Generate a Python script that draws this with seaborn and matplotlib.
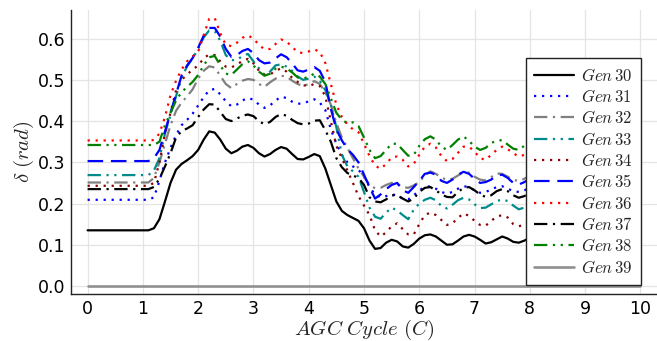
import numpy as np
import pandas as pd
import matplotlib
matplotlib.use("Agg")
import matplotlib.pyplot as plt
import seaborn as sns

sns.set_style("white")
plt.rcParams["font.family"] = ["DejaVu Sans"]
plt.rcParams["mathtext.fontset"] = "cm"

# AGC cycle axis (0 .. 10 in steps of 0.1)
cycle = [round(0.1 * i, 1) for i in range(101)]

gen30 = [0.135] * 12 + [
    0.14, 0.162, 0.205, 0.25, 0.282, 0.296, 0.305, 0.315, 0.33,
    0.355, 0.375, 0.372, 0.355, 0.333, 0.322, 0.328, 0.338, 0.342, 0.335,
    0.322, 0.314, 0.320, 0.330, 0.337, 0.333, 0.320, 0.308, 0.307, 0.313,
    0.320, 0.315, 0.285, 0.245, 0.205, 0.182, 0.172, 0.165, 0.158, 0.14,
    0.11, 0.09, 0.092, 0.105, 0.112, 0.108, 0.096, 0.093, 0.102, 0.115,
    0.123, 0.125, 0.12, 0.11, 0.1, 0.101, 0.11, 0.12, 0.124, 0.12,
    0.112, 0.103, 0.106, 0.113, 0.12, 0.115, 0.107, 0.105, 0.11, 0.117,
    0.123, 0.124, 0.12, 0.11, 0.104, 0.106, 0.116, 0.124, 0.121, 0.113,
    0.105, 0.105, 0.113, 0.122, 0.123, 0.117, 0.107, 0.103, 0.11, 0.12]

gen31 = [0.209] * 12 + [
    0.215, 0.255, 0.3, 0.335, 0.366, 0.39, 0.403, 0.418, 0.438,
    0.458, 0.475, 0.478, 0.465, 0.448, 0.436, 0.44, 0.45, 0.456, 0.452,
    0.44, 0.432, 0.438, 0.45, 0.459, 0.456, 0.447, 0.442, 0.443, 0.448,
    0.453, 0.445, 0.427, 0.38, 0.345, 0.318, 0.3, 0.29, 0.282, 0.265,
    0.24, 0.222, 0.215, 0.218, 0.222, 0.22, 0.212, 0.21, 0.22, 0.232,
    0.24, 0.242, 0.236, 0.228, 0.224, 0.228, 0.236, 0.242, 0.24, 0.232,
    0.226, 0.228, 0.234, 0.24, 0.242, 0.236, 0.23, 0.228, 0.232, 0.238,
    0.241, 0.242, 0.239, 0.233, 0.229, 0.23, 0.236, 0.242, 0.24, 0.235,
    0.229, 0.229, 0.235, 0.241, 0.241, 0.237, 0.231, 0.228, 0.233, 0.239]

gen32 = [0.251] * 12 + [
    0.262, 0.3, 0.345, 0.39, 0.425, 0.445, 0.46, 0.477, 0.503,
    0.522, 0.533, 0.53, 0.51, 0.49, 0.48, 0.49, 0.498, 0.502, 0.5,
    0.49, 0.483, 0.494, 0.503, 0.51, 0.508, 0.498, 0.49, 0.485, 0.49,
    0.497, 0.49, 0.47, 0.44, 0.395, 0.36, 0.335, 0.31, 0.285, 0.265,
    0.245, 0.237, 0.238, 0.245, 0.25, 0.248, 0.24, 0.238, 0.244, 0.252,
    0.268, 0.278, 0.272, 0.263, 0.257, 0.26, 0.268, 0.276, 0.275, 0.265,
    0.258, 0.256, 0.264, 0.273, 0.272, 0.265, 0.257, 0.255, 0.26, 0.268,
    0.274, 0.275, 0.271, 0.262, 0.256, 0.258, 0.267, 0.275, 0.272, 0.265,
    0.257, 0.257, 0.265, 0.273, 0.274, 0.268, 0.259, 0.255, 0.262, 0.271]

gen33 = [0.269] * 12 + [
    0.28, 0.31, 0.37, 0.415, 0.46, 0.505, 0.533, 0.552, 0.575,
    0.603, 0.62, 0.618, 0.595, 0.56, 0.548, 0.548, 0.558, 0.563, 0.545,
    0.528, 0.512, 0.52, 0.535, 0.538, 0.532, 0.522, 0.508, 0.5, 0.503,
    0.508, 0.498, 0.475, 0.44, 0.385, 0.318, 0.29, 0.278, 0.265, 0.228,
    0.19, 0.168, 0.163, 0.178, 0.19, 0.183, 0.172, 0.162, 0.185, 0.2,
    0.209, 0.214, 0.208, 0.194, 0.188, 0.197, 0.208, 0.214, 0.21, 0.198,
    0.189, 0.19, 0.198, 0.206, 0.21, 0.206, 0.195, 0.186, 0.19, 0.198,
    0.211, 0.212, 0.207, 0.196, 0.189, 0.192, 0.202, 0.212, 0.208, 0.2,
    0.19, 0.19, 0.2, 0.21, 0.211, 0.204, 0.193, 0.188, 0.196, 0.207]

gen34 = [0.243] * 12 + [
    0.25, 0.3, 0.37, 0.42, 0.475, 0.5, 0.513, 0.525, 0.535,
    0.552, 0.562, 0.56, 0.545, 0.532, 0.53, 0.537, 0.546, 0.551, 0.54,
    0.522, 0.512, 0.513, 0.522, 0.528, 0.52, 0.505, 0.495, 0.487, 0.485,
    0.49, 0.485, 0.46, 0.4, 0.34, 0.31, 0.28, 0.25, 0.218, 0.195,
    0.172, 0.135, 0.12, 0.13, 0.145, 0.152, 0.138, 0.125, 0.125, 0.15,
    0.172, 0.178, 0.172, 0.16, 0.148, 0.152, 0.165, 0.176, 0.17, 0.158,
    0.148, 0.146, 0.158, 0.168, 0.172, 0.166, 0.15, 0.145, 0.148, 0.158,
    0.175, 0.176, 0.17, 0.158, 0.149, 0.152, 0.165, 0.176, 0.172, 0.162,
    0.151, 0.151, 0.162, 0.173, 0.175, 0.166, 0.154, 0.148, 0.158, 0.17]

gen35 = [0.303] * 12 + [
    0.31, 0.33, 0.375, 0.42, 0.465, 0.51, 0.535, 0.553, 0.578,
    0.607, 0.626, 0.626, 0.605, 0.575, 0.556, 0.56, 0.57, 0.575, 0.565,
    0.548, 0.54, 0.542, 0.552, 0.562, 0.555, 0.54, 0.523, 0.52, 0.525,
    0.531, 0.522, 0.495, 0.43, 0.38, 0.353, 0.332, 0.318, 0.3, 0.27,
    0.24, 0.212, 0.222, 0.235, 0.245, 0.25, 0.232, 0.226, 0.24, 0.255,
    0.272, 0.275, 0.27, 0.255, 0.25, 0.258, 0.27, 0.277, 0.272, 0.26,
    0.25, 0.252, 0.258, 0.268, 0.27, 0.262, 0.25, 0.246, 0.252, 0.26,
    0.275, 0.276, 0.27, 0.258, 0.249, 0.252, 0.265, 0.276, 0.272, 0.262,
    0.251, 0.251, 0.262, 0.273, 0.275, 0.266, 0.254, 0.248, 0.258, 0.27]

gen36 = [0.353] * 12 + [
    0.354, 0.37, 0.41, 0.463, 0.498, 0.525, 0.545, 0.557, 0.568,
    0.608, 0.648, 0.65, 0.613, 0.585, 0.582, 0.59, 0.602, 0.608, 0.6,
    0.585, 0.574, 0.575, 0.587, 0.598, 0.593, 0.58, 0.567, 0.565, 0.569,
    0.574, 0.568, 0.541, 0.49, 0.44, 0.41, 0.392, 0.38, 0.373, 0.345,
    0.315, 0.292, 0.284, 0.296, 0.312, 0.314, 0.306, 0.29, 0.296, 0.318,
    0.338, 0.345, 0.336, 0.315, 0.303, 0.308, 0.323, 0.338, 0.338, 0.326,
    0.31, 0.306, 0.318, 0.33, 0.338, 0.332, 0.322, 0.314, 0.318, 0.326,
    0.338, 0.34, 0.333, 0.317, 0.307, 0.31, 0.326, 0.34, 0.335, 0.322,
    0.308, 0.308, 0.322, 0.336, 0.338, 0.328, 0.312, 0.305, 0.317, 0.33]

gen37 = [0.235] * 12 + [
    0.24, 0.26, 0.29, 0.322, 0.36, 0.376, 0.382, 0.39, 0.41,
    0.428, 0.441, 0.44, 0.422, 0.405, 0.4, 0.406, 0.413, 0.416, 0.412,
    0.4, 0.392, 0.398, 0.41, 0.417, 0.413, 0.403, 0.395, 0.392, 0.394,
    0.401, 0.402, 0.378, 0.35, 0.31, 0.288, 0.274, 0.268, 0.262, 0.245,
    0.215, 0.205, 0.203, 0.21, 0.22, 0.22, 0.212, 0.205, 0.212, 0.228,
    0.238, 0.24, 0.232, 0.222, 0.216, 0.215, 0.228, 0.238, 0.24, 0.232,
    0.222, 0.216, 0.22, 0.23, 0.235, 0.23, 0.22, 0.214, 0.218, 0.226,
    0.237, 0.238, 0.233, 0.223, 0.216, 0.218, 0.229, 0.238, 0.235, 0.227,
    0.217, 0.217, 0.227, 0.236, 0.237, 0.23, 0.22, 0.215, 0.223, 0.231]

gen38 = [0.342] * 12 + [
    0.342, 0.35, 0.39, 0.42, 0.45, 0.47, 0.483, 0.495, 0.512,
    0.535, 0.555, 0.558, 0.535, 0.515, 0.512, 0.525, 0.538, 0.545, 0.535,
    0.52, 0.51, 0.515, 0.527, 0.532, 0.528, 0.518, 0.506, 0.503, 0.508,
    0.515, 0.508, 0.49, 0.455, 0.42, 0.403, 0.395, 0.397, 0.388, 0.36,
    0.33, 0.31, 0.315, 0.33, 0.345, 0.345, 0.33, 0.316, 0.318, 0.34,
    0.356, 0.363, 0.355, 0.338, 0.33, 0.342, 0.355, 0.363, 0.352, 0.338,
    0.33, 0.335, 0.347, 0.352, 0.354, 0.343, 0.333, 0.33, 0.34, 0.35,
    0.36, 0.362, 0.356, 0.341, 0.332, 0.335, 0.349, 0.362, 0.357, 0.346,
    0.333, 0.333, 0.346, 0.359, 0.36, 0.351, 0.336, 0.33, 0.341, 0.35]

gen39 = [0.0] * 101

labels = ["30", "31", "32", "33", "34", "35", "36", "37", "38", "39"]
series = [gen30, gen31, gen32, gen33, gen34, gen35, gen36, gen37, gen38, gen39]

colors = ["black", "#0000ff", "#808080", "#008b8b", "#8b0000",
          "#0000ff", "#ff0000", "black", "#008000", "#909090"]
styles = ["-", (0, (1, 2.6)), (0, (6, 2.5, 1, 2.5)), (0, (6, 2.5, 1, 2.5, 1, 2.5)),
          (0, (1, 2.6)), (0, (7, 3.5)), (0, (1, 2.6)), (0, (6, 2.5, 1, 2.5)),
          (0, (6, 2.5, 1, 2.5, 1, 2.5)), "-"]
widths = [1.6] * 9 + [1.9]

df = pd.DataFrame({"cycle": cycle})
for lab, s in zip(labels, series):
    df["Gen" + lab] = s

fig = plt.figure(figsize=(6.57, 3.41), dpi=100)
ax = fig.add_axes([71 / 657, 47 / 341, 586 / 657, 284 / 341])

for lab, col, ls, lw in zip(labels, colors, styles, widths):
    sns.lineplot(data=df, x="cycle", y="Gen" + lab, ax=ax, color=col,
                 linewidth=lw, label=r"$Gen\,%s$" % lab)
    ax.lines[-1].set_linestyle(ls)

ax.set_xlim(-0.3, 10.3)
ax.set_ylim(-0.0195, 0.6695)
ax.set_xticks(range(0, 11))
ax.set_yticks([0.0, 0.1, 0.2, 0.3, 0.4, 0.5, 0.6])
ax.set_yticklabels(["0.0", "0.1", "0.2", "0.3", "0.4", "0.5", "0.6"])
ax.tick_params(axis="both", direction="in", length=4, width=0.8,
               labelsize=12.5, colors="black", pad=4)
ax.grid(True, color="#e4e4e4", linewidth=0.9)
ax.set_axisbelow(True)
for side in ["top", "right"]:
    ax.spines[side].set_visible(False)
for side in ["left", "bottom"]:
    ax.spines[side].set_color("#222222")
    ax.spines[side].set_linewidth(1.0)

ax.set_xlabel(r"$AGC\ Cycle\ (C)$", fontsize=15, labelpad=0)
ax.set_ylabel(r"$\delta\ (rad)$", fontsize=15, labelpad=1)

leg = ax.legend(loc="lower right", bbox_to_anchor=(0.973, 0.032),
                borderaxespad=0, fontsize=12, frameon=True, fancybox=False,
                framealpha=1, edgecolor="#222222", handlelength=2.4,
                handletextpad=0.4, labelspacing=0.2, borderpad=0.5)
leg.get_frame().set_linewidth(1.0)

fig.savefig("out.png", dpi=100)
